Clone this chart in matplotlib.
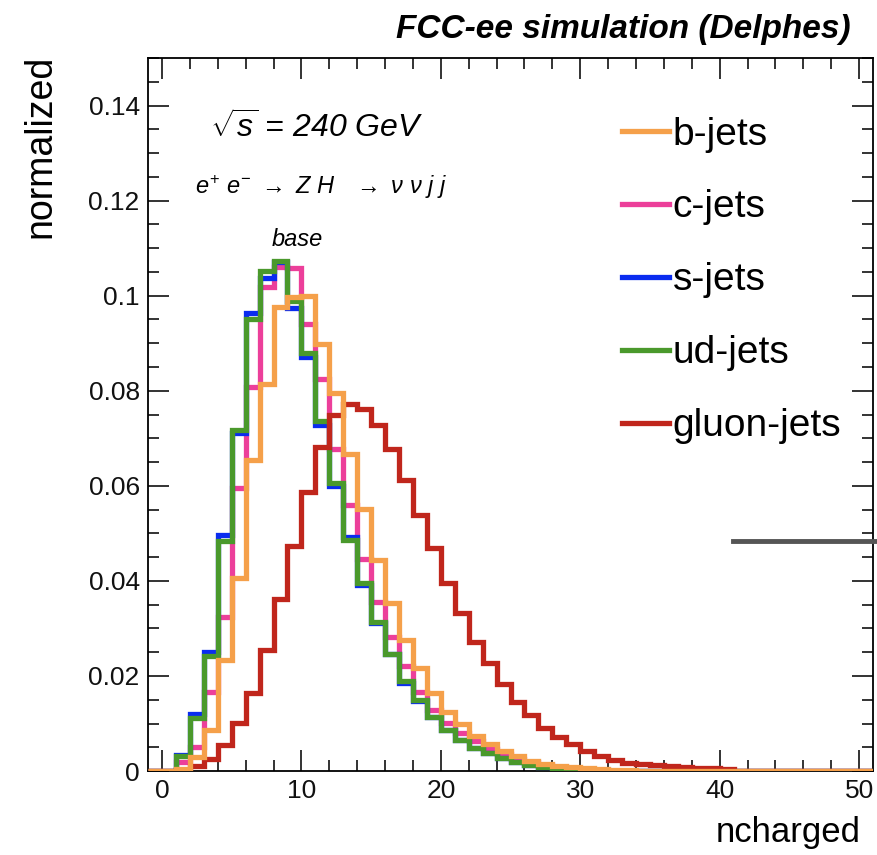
import numpy as np
import matplotlib
matplotlib.use("Agg")
from matplotlib import pyplot as plt
from matplotlib.lines import Line2D
from matplotlib.ticker import MultipleLocator

plt.rcParams['font.family'] = ['Liberation Sans', 'DejaVu Sans']
plt.rcParams['mathtext.fontset'] = 'custom'
plt.rcParams['mathtext.rm'] = 'Liberation Sans'
plt.rcParams['mathtext.it'] = 'Liberation Sans:italic'

# bin edges -1 .. 51, one unit wide
edges = np.arange(-1, 52)

# normalized ncharged distributions, values from bin [0,1] upwards
b_jets = [0.0, 0.0005, 0.0030, 0.0087, 0.0234, 0.0406, 0.0655, 0.0815, 0.0977, 0.0998,
          0.1000, 0.0899, 0.0796, 0.0668, 0.0552, 0.0444, 0.0353, 0.0276, 0.0217, 0.0164,
          0.0125, 0.0098, 0.0073, 0.0056, 0.0042, 0.0031, 0.0021, 0.0015, 0.0011, 0.0008,
          0.0006, 0.0004, 0.0003, 0.0002]
c_jets = [0.0, 0.0018, 0.0050, 0.0167, 0.0324, 0.0595, 0.0808, 0.1018, 0.1060, 0.1058,
          0.0941, 0.0825, 0.0678, 0.0559, 0.0447, 0.0356, 0.0283, 0.0220, 0.0167, 0.0129,
          0.0101, 0.0080, 0.0063, 0.0047, 0.0035, 0.0025, 0.0018, 0.0012, 0.0008, 0.0005,
          0.0003, 0.0002, 0.0001]
s_jets = [0.0, 0.0033, 0.0119, 0.0250, 0.0497, 0.0712, 0.0963, 0.1037, 0.1070, 0.0975,
          0.0872, 0.0727, 0.0600, 0.0492, 0.0392, 0.0312, 0.0246, 0.0185, 0.0148, 0.0113,
          0.0086, 0.0065, 0.0049, 0.0037, 0.0027, 0.0018, 0.0012, 0.0008, 0.0005, 0.0003,
          0.0002, 0.0001, 0.0001]
ud_jets = [0.0, 0.0031, 0.0112, 0.0242, 0.0484, 0.0717, 0.0952, 0.1052, 0.1073, 0.0989,
           0.0879, 0.0736, 0.0605, 0.0487, 0.0395, 0.0314, 0.0247, 0.0189, 0.0149, 0.0113,
           0.0087, 0.0066, 0.0049, 0.0038, 0.0028, 0.0019, 0.0013, 0.0009, 0.0006, 0.0004,
           0.0002, 0.0001, 0.0001, 0.0001]
gluon_jets = [0.0, 0.0003, 0.0011, 0.0025, 0.0055, 0.0102, 0.0165, 0.0255, 0.0362, 0.0474,
              0.0587, 0.0682, 0.0748, 0.0773, 0.0762, 0.0727, 0.0678, 0.0612, 0.0538, 0.0470,
              0.0395, 0.0332, 0.0272, 0.0227, 0.0183, 0.0145, 0.0117, 0.0091, 0.0072, 0.0056,
              0.0042, 0.0031, 0.0024, 0.0017, 0.0014, 0.0012, 0.0010, 0.0008, 0.0007, 0.0006,
              0.0005]

labels = ['b-jets', 'c-jets', 's-jets', 'ud-jets', 'gluon-jets']
colors = ['#f5a04a', '#ec3f9a', '#0a2cf0', '#4a992c', '#c0261c']
ytick_vals = [0, 0.02, 0.04, 0.06, 0.08, 0.1, 0.12, 0.14]
ytick_labels = ['0', '0.02', '0.04', '0.06', '0.08', '0.1', '0.12', '0.14']
xtick_vals = [0, 10, 20, 30, 40, 50]


def full(vals):
    # bin [-1,0] is empty, and everything past the listed bins too
    out = np.zeros(len(edges) - 1)
    out[1:1 + len(vals)] = vals
    return out


fig = plt.figure(figsize=(8.77, 8.55), dpi=100)
ax = fig.add_axes([0.1688, 0.0982, 0.8267, 0.8339])

series = [b_jets, c_jets, s_jets, ud_jets, gluon_jets]
zorders = [6, 2, 3, 4, 5]
for vals, col, z in zip(series, colors, zorders):
    ax.stairs(full(vals), edges, color=col, lw=3.8, zorder=z)

ax.set_xlim(-1, 51)
ax.set_ylim(0, 0.15)
ax.set_xticks(xtick_vals)
ax.set_yticks(ytick_vals)
ax.set_yticklabels(ytick_labels)
ax.xaxis.set_minor_locator(MultipleLocator(2))
ax.yaxis.set_minor_locator(MultipleLocator(0.005))
ax.tick_params(which='both', direction='in', top=True, right=True, width=1.2,
               labelsize=19, colors='#111111')
ax.tick_params(which='major', length=15)
ax.tick_params(which='minor', length=8)
ax.tick_params(axis='y', pad=6)
ax.tick_params(axis='x', pad=6)
for sp in ax.spines.values():
    sp.set_linewidth(1.3)

handles = [Line2D([], [], color=c, lw=3.8) for c in colors]
ax.legend(handles, labels, loc='upper left', bbox_to_anchor=(0.654, 0.918),
          frameon=False, fontsize=28, handlelength=1.2, handletextpad=0.1,
          labelspacing=0.95, borderpad=0, borderaxespad=0)

ax.text(0.0855, 0.902, r'$\sqrt{s}$ = 240 GeV', transform=ax.transAxes, fontsize=23,
        style='italic', ha='left', va='center')
ax.text(0.065, 0.819,
        r'$e^{+}\ e^{-}\ \rightarrow\ Z\ H\ \ \ \rightarrow\ \nu\ \nu\ j\ j$',
        transform=ax.transAxes, fontsize=17, ha='left', va='center')
ax.text(0.2055, 0.745, 'base', transform=ax.transAxes, fontsize=17,
        style='italic', ha='center', va='center')

# grey marker line sticking out on the right
ax.axhline(0.0484, xmin=0.807, xmax=1.006, color='#555555', lw=3.5, clip_on=False, zorder=7)

fig.text(0.970, 0.965, 'FCC-ee simulation (Delphes)', fontsize=24, fontweight='bold',
         style='italic', ha='right', va='center')
fig.text(0.981, 0.026, 'ncharged', fontsize=25, ha='right', va='center')
fig.text(0.046, 0.936, 'normalized', fontsize=27, rotation=90, ha='center', va='top')

fig.savefig('out.png', dpi=100)
